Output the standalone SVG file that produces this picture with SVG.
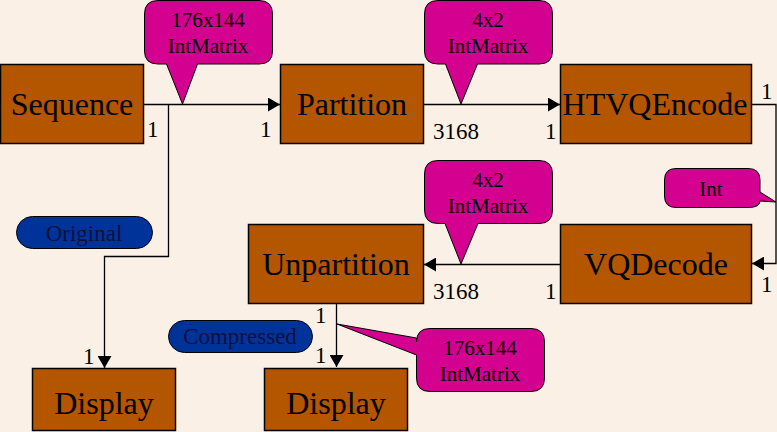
<svg xmlns="http://www.w3.org/2000/svg" width="777" height="432" viewBox="0 0 777 432">
<style>
.node{fill:#B45500;stroke:#000;stroke-width:1.5}
.nt{font-size:32px;fill:#000;text-anchor:middle}
.call{fill:#D4008F;stroke:#000;stroke-width:1}
.ct{font-size:21px;fill:#000;text-anchor:middle}
.oval{fill:#003399;stroke:#000;stroke-width:1}
.ot{font-size:23px;fill:#101040;text-anchor:middle}
.lbl{font-size:23px;fill:#000}
.ln{fill:none;stroke:#000;stroke-width:1.3}
</style>
<defs>
<marker id="ah" markerWidth="12" markerHeight="14" refX="12" refY="7" orient="auto" markerUnits="userSpaceOnUse">
<path d="M0,0 L12,7 L0,14 Z" fill="#000"/>
</marker>
</defs>
<rect width="777" height="432" fill="#FAF0E6"/>
<g font-family="'Liberation Serif', 'Times New Roman', serif">
<g id="connectors">
<path class="ln" d="M143,104.5 H280" marker-end="url(#ah)"/>
<path class="ln" d="M168.5,104.5 V256.5 H104.5 V368" marker-end="url(#ah)"/>
<path class="ln" d="M423,104.5 H560" marker-end="url(#ah)"/>
<path class="ln" d="M751,104.5 H776 V263.5 H752" marker-end="url(#ah)"/>
<path class="ln" d="M560,264.5 H424" marker-end="url(#ah)"/>
<path class="ln" d="M336.5,303 V367" marker-end="url(#ah)"/>
<text class="lbl" x="147" y="137">1</text>
<text class="lbl" x="260" y="137">1</text>
<text class="lbl" x="433" y="139">3168</text>
<text class="lbl" x="545" y="139">1</text>
<text class="lbl" x="761" y="99">1</text>
<text class="lbl" x="761" y="292">1</text>
<text class="lbl" x="545" y="299">1</text>
<text class="lbl" x="433" y="299">3168</text>
<text class="lbl" x="315" y="323">1</text>
<text class="lbl" x="315" y="363">1</text>
<text class="lbl" x="83" y="364">1</text>
</g>
<g id="Sequence"><rect class="node" x="0.5" y="64.5" width="143" height="79"/><text class="nt" x="72" y="115">Sequence</text></g>
<g id="Partition"><rect class="node" x="280.5" y="64.5" width="143" height="79"/><text class="nt" x="352" y="115">Partition</text></g>
<g id="HTVQEncode"><rect class="node" x="560.5" y="64.5" width="191" height="79"/><text class="nt" x="655" y="115">HTVQEncode</text></g>
<g id="VQDecode"><rect class="node" x="560.5" y="224.5" width="191" height="79"/><text class="nt" x="656" y="275">VQDecode</text></g>
<g id="Unpartition"><rect class="node" x="248.5" y="224.5" width="175" height="79"/><text class="nt" x="336" y="275">Unpartition</text></g>
<g id="Display1"><rect class="node" x="32.5" y="368.5" width="143" height="62"/><text class="nt" x="104" y="414">Display</text></g>
<g id="Display2"><rect class="node" x="264.5" y="368.5" width="143" height="62"/><text class="nt" x="336" y="414">Display</text></g>
<g id="callout1">
<path class="call" d="M158,0.5 H259 Q272.5,0.5 272.5,14 V51 Q272.5,64 259,64 H197.5 L182.5,104 L166.5,64 H158 Q144.5,64 144.5,51 V14 Q144.5,0.5 158,0.5 Z"/>
<text class="ct" x="208" y="27">176x144</text><text class="ct" x="208" y="53">IntMatrix</text>
</g>
<g id="callout2">
<path class="call" d="M438,0.5 H539 Q552.5,0.5 552.5,14 V51 Q552.5,64 539,64 H477.5 L461,104 L445.5,64 H438 Q424.5,64 424.5,51 V14 Q424.5,0.5 438,0.5 Z"/>
<text class="ct" x="488" y="27">4x2</text><text class="ct" x="488" y="53">IntMatrix</text>
</g>
<g id="callout3">
<path class="call" d="M438,160.5 H539 Q552.5,160.5 552.5,174 V210 Q552.5,223.5 539,223.5 H478 L461,264 L445,223.5 H438 Q424.5,223.5 424.5,210 V174 Q424.5,160.5 438,160.5 Z"/>
<text class="ct" x="488" y="187">4x2</text><text class="ct" x="488" y="213">IntMatrix</text>
</g>
<g id="callout4">
<path class="call" d="M430,328.5 H531 Q544.5,328.5 544.5,342 V378 Q544.5,391.5 531,391.5 H430 Q416.5,391.5 416.5,378 V355 L337,324 L416.5,338 V342 Q416.5,328.5 430,328.5 Z"/>
<text class="ct" x="480" y="355">176x144</text><text class="ct" x="480" y="381">IntMatrix</text>
</g>
<g id="calloutInt">
<path class="call" d="M676,168.5 H748 Q760,168.5 760,180 V192 L776,202 L760,201 Q760,207.5 748,207.5 H676 Q664.5,207.5 664.5,196 V180 Q664.5,168.5 676,168.5 Z"/>
<text class="ct" x="711" y="196">Int</text>
</g>
<g id="Original"><rect class="oval" x="16.5" y="216.5" width="136" height="32" rx="16"/><text class="ot" x="84" y="241">Original</text></g>
<g id="Compressed"><rect class="oval" x="168.5" y="320.5" width="144" height="32" rx="16"/><text class="ot" x="240" y="344">Compressed</text></g>
</g>
</svg>
